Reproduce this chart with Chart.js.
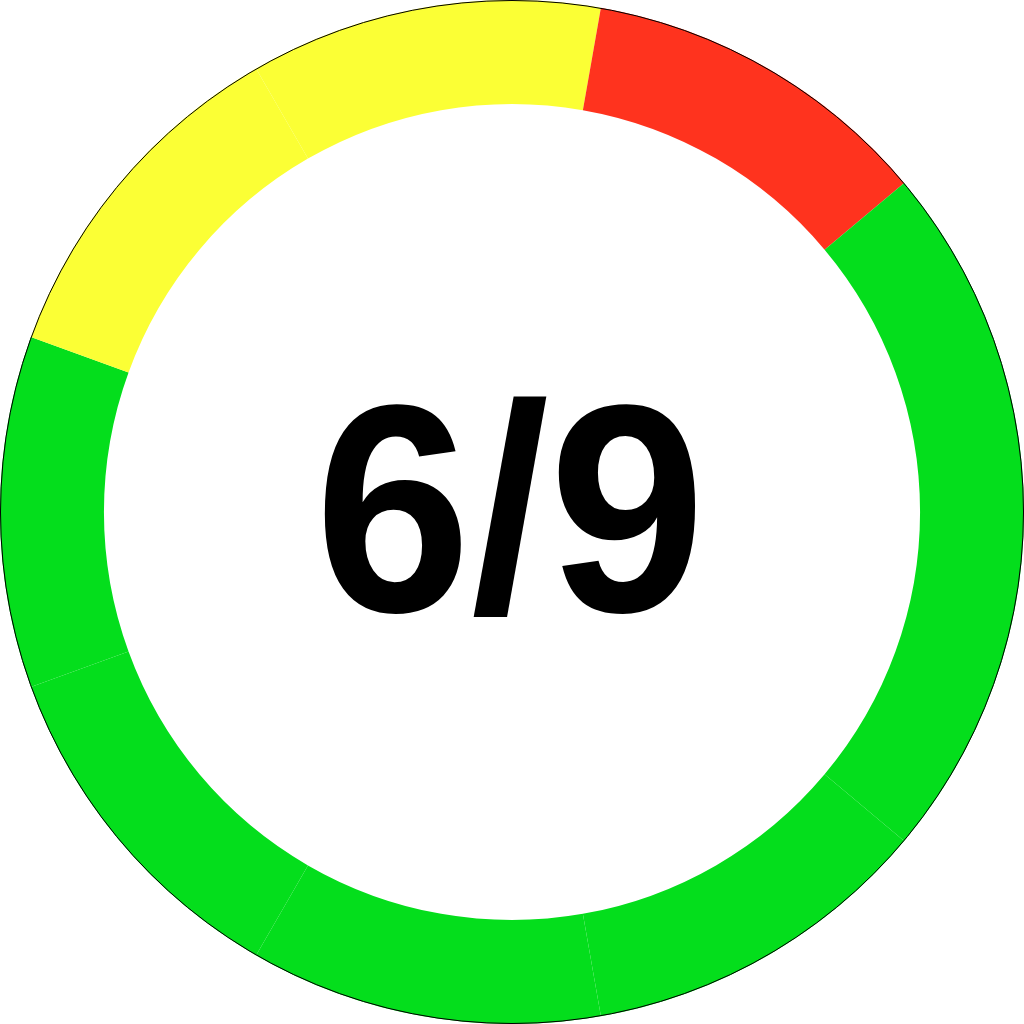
<!DOCTYPE html>
<html>
<head>
<meta charset="utf-8">
<script src="https://cdn.jsdelivr.net/npm/chart.js@4"></script>
<style>
html,body{margin:0;padding:0;background:#fff;}
#c{display:block;}
</style>
</head>
<body>
<canvas id="c" width="1024" height="1024"></canvas>
<script>
const categories = ['1','2','3','4','5','6','7','8','9'];
const values = [1,1,1,1,1,1,1,1,1];
const statuses = ['ok','ok','ok','ok','ok','warn','warn','bad','ok'];
const centerLabel = '6/9';
const palette = {ok:'#04DE1C', warn:'#FBFF35', bad:'#FF331E'};

const outline = {
  id:'outline',
  afterDatasetsDraw(chart){
    const arc = chart.getDatasetMeta(0).data[0];
    if(!arc) return;
    const ctx = chart.ctx;
    ctx.save();
    ctx.beginPath();
    ctx.arc(arc.x, arc.y, arc.outerRadius - 0.5, 0, Math.PI*2);
    ctx.strokeStyle = '#000';
    ctx.lineWidth = 1;
    ctx.stroke();
    ctx.translate(arc.x - 2, arc.y + 99);
    ctx.scale(0.95, 1);
    ctx.fillStyle = '#000';
    ctx.font = 'bold 296px "Liberation Sans", Arial, sans-serif';
    ctx.textAlign = 'center';
    ctx.textBaseline = 'alphabetic';
    ctx.fillText(centerLabel, 0, 0);
    ctx.restore();
  }
};

new Chart(document.getElementById('c'), {
  type:'doughnut',
  data:{
    labels:categories,
    datasets:[{
      data:values,
      backgroundColor:statuses.map(s=>palette[s]),
      borderWidth:0
    }]
  },
  options:{
    responsive:false,
    animation:false,
    rotation:90,
    cutout:'79.7%',
    layout:{padding:0},
    plugins:{legend:{display:false}, tooltip:{enabled:false}}
  },
  plugins:[outline]
});
</script>
</body>
</html>
